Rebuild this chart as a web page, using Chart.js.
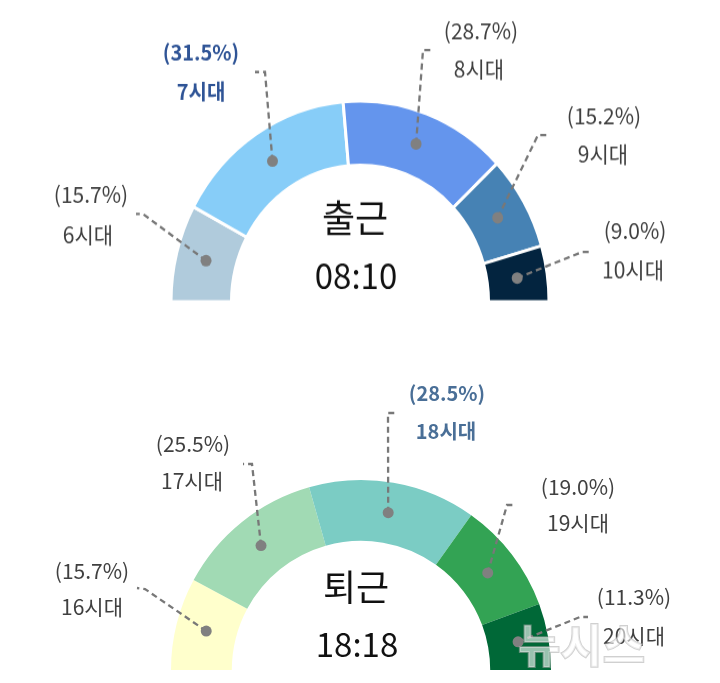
<!DOCTYPE html>
<html>
<head>
<meta charset="utf-8">
<script src="https://cdn.jsdelivr.net/npm/chart.js@4.4.0/dist/chart.umd.min.js"></script>
<style>
html, body { margin: 0; padding: 0; background: #fff; width: 720px; height: 683px; overflow: hidden; }
#top { position: absolute; left: 0; top: 0; width: 720px; height: 320px; transform: scaleY(1.0625); transform-origin: 0 0; }
#bot { position: absolute; left: 0; top: 340px; width: 720px; height: 343px; }
</style>
</head>
<body>
<div id="top"><canvas id="c1"></canvas></div>
<div id="bot"><canvas id="c2"></canvas></div>
<script>
// 출근 시간대별 비중
var amHours = ['6시대', '7시대', '8시대', '9시대', '10시대'];
var amShare = [15.7, 31.5, 28.7, 15.2, 9.0];
var amColors = ['#b0cbdc', '#87cdf8', '#6495ed', '#4682b4', '#03243f'];
var amTitle = '출근';
var amPeak = '08:10';

// 퇴근 시간대별 비중
var pmHours = ['16시대', '17시대', '18시대', '19시대', '20시대'];
var pmShare = [15.7, 25.5, 28.5, 19.0, 11.3];
var pmColors = ['#ffffcc', '#a1dab4', '#7bccc4', '#33a354', '#006837'];
var pmTitle = '퇴근';
var pmPeak = '18:18';

// callout placement (page pixels)
var amLayout = [
    { end: [136, 214], elbow: [143, 214], pct: [91, 194], name: [88, 235] },
    { end: [255, 72], elbow: [265, 72], pct: [201, 52], name: [201, 92], bold: true, color: '#2f5496' },
    { end: [431, 50], elbow: [423, 50], pct: [481, 31], name: [479, 69] },
    { end: [547, 135], elbow: [538, 135], pct: [604, 116], name: [603, 154] },
    { end: [591, 252], elbow: [582, 252], pct: [635, 231], name: [633, 270] }
];
var pmLayout = [
    { end: [137, 588], elbow: [145, 589], pct: [92, 571], name: [92, 607] },
    { end: [243, 464], elbow: [252, 464], pct: [193, 444], name: [192, 481] },
    { end: [395, 413], elbow: [388, 413], pct: [447, 393], name: [446, 431], bold: true, color: '#4a6f97' },
    { end: [515, 505], elbow: [507, 505], pct: [578, 487], name: [578, 523] },
    { end: [588, 617], elbow: [580, 617], pct: [634, 597], name: [634, 636] }
];

var FONT = '"Noto Sans CJK KR", "Noto Sans", sans-serif';

function callouts(layout, title, peak, titlePos, peakPos, top, sy, watermark) {
    return {
        id: 'callouts',
        afterDraw: function (chart) {
            var ctx = chart.ctx;
            var meta = chart.getDatasetMeta(0);
            var labels = chart.data.labels;
            var vals = chart.data.datasets[0].data;
            function Y(y) { return (y - top) / sy; }
            meta.data.forEach(function (arc, i) {
                var p = arc.getCenterPoint();
                var L = layout[i];
                ctx.save();
                ctx.strokeStyle = '#787878';
                ctx.lineWidth = 2.3;
                ctx.setLineDash([6, 4]);
                ctx.beginPath();
                ctx.moveTo(p.x, p.y);
                ctx.lineTo(L.elbow[0], Y(L.elbow[1]));
                ctx.lineTo(L.end[0], Y(L.end[1]));
                ctx.stroke();
                ctx.setLineDash([]);
                ctx.fillStyle = '#808080';
                ctx.beginPath();
                ctx.arc(p.x, p.y, 5.5, 0, Math.PI * 2);
                ctx.fill();
                ctx.font = (L.bold ? 'bold 20px ' : '21px ') + FONT;
                ctx.fillStyle = L.color || '#404040';
                ctx.textAlign = 'center';
                ctx.textBaseline = 'middle';
                ctx.fillText('(' + vals[i].toFixed(1) + '%)', L.pct[0], Y(L.pct[1]));
                ctx.fillText(labels[i], L.name[0], Y(L.name[1]));
                ctx.restore();
            });
            ctx.save();
            ctx.fillStyle = '#111';
            ctx.textAlign = 'center';
            ctx.textBaseline = 'middle';
            ctx.font = '36px ' + FONT;
            ctx.fillText(title, titlePos[0], Y(titlePos[1]));
            ctx.font = '33px ' + FONT;
            ctx.fillText(peak, peakPos[0], Y(peakPos[1]));
            if (watermark) {
                ctx.font = 'bold 46px ' + FONT;
                ctx.lineWidth = 2;
                ctx.strokeStyle = 'rgba(170,170,170,0.55)';
                ctx.fillStyle = 'rgba(255,255,255,0.6)';
                ctx.textAlign = 'left';
                ctx.strokeText(watermark, 518, Y(645));
                ctx.fillText(watermark, 518, Y(645));
            }
            ctx.restore();
        }
    };
}

function gauge(id, labels, data, colors, border, radius, padding, plugin) {
    return new Chart(document.getElementById(id), {
        type: 'doughnut',
        data: {
            labels: labels,
            datasets: [{
                data: data,
                backgroundColor: colors,
                borderColor: '#ffffff',
                borderWidth: border
            }]
        },
        options: {
            responsive: true,
            maintainAspectRatio: false,
            animation: false,
            rotation: -90,
            circumference: 180,
            radius: radius,
            cutout: '68%',
            layout: { padding: padding },
            plugins: { legend: { display: false }, tooltip: { enabled: false } }
        },
        plugins: [plugin]
    });
}

gauge('c1', amHours, amShare, amColors, 3, 189,
    { left: 171, right: 171, top: 95, bottom: 36 },
    callouts(amLayout, amTitle, amPeak, [355, 218], [356, 276], 0, 1.0625, null));

gauge('c2', pmHours, pmShare, pmColors, 0, 190,
    { left: 171, right: 169, top: 140, bottom: 13 },
    callouts(pmLayout, pmTitle, pmPeak, [356, 587], [357, 644], 340, 1, '뉴시스'));
</script>
</body>
</html>
